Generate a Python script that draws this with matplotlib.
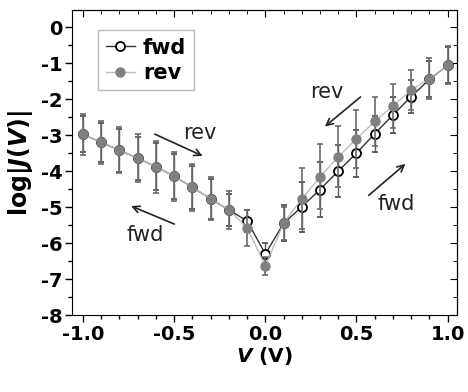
import matplotlib
matplotlib.use("Agg")
import matplotlib.pyplot as plt
from matplotlib.lines import Line2D
from matplotlib.ticker import MultipleLocator

plt.rcParams['font.family'] = ['DejaVu Sans']
plt.rcParams['mathtext.fontset'] = 'custom'
plt.rcParams['mathtext.it'] = 'DejaVu Sans:italic:bold'
plt.rcParams['mathtext.rm'] = 'DejaVu Sans:bold'
plt.rcParams['mathtext.bf'] = 'DejaVu Sans:bold'

# bias voltage (V)
volts = [-1.0, -0.9, -0.8, -0.7, -0.6, -0.5, -0.4, -0.3, -0.2, -0.1, 0.0,
         0.1, 0.2, 0.3, 0.4, 0.5, 0.6, 0.7, 0.8, 0.9, 1.0]
# log|J| forward sweep
fwd = [-2.98, -3.20, -3.42, -3.64, -3.88, -4.14, -4.45, -4.77, -5.08, -5.38, -6.30,
       -5.45, -4.99, -4.51, -4.00, -3.50, -2.96, -2.44, -1.93, -1.45, -1.06]
fwd_err = [0.50, 0.55, 0.60, 0.60, 0.65, 0.62, 0.60, 0.55, 0.45, 0.30, 0.30,
           0.50, 0.70, 0.75, 0.72, 0.65, 0.50, 0.50, 0.45, 0.50, 0.50]
# log|J| reverse sweep
rev = [-2.98, -3.20, -3.42, -3.64, -3.88, -4.14, -4.45, -4.77, -5.08, -5.57, -6.63,
       -5.45, -4.77, -4.16, -3.60, -3.10, -2.62, -2.19, -1.75, -1.43, -1.06]
rev_err = [0.56, 0.60, 0.64, 0.66, 0.72, 0.68, 0.65, 0.60, 0.52, 0.50, 0.25,
           0.45, 0.85, 0.90, 0.85, 0.80, 0.67, 0.60, 0.55, 0.57, 0.53]

fig = plt.figure(figsize=(4.68, 3.92), dpi=100)
ax = fig.add_axes([0.154, 0.196, 0.822, 0.778])

ax.errorbar(volts, fwd, yerr=fwd_err, color='#333333', lw=1.0, marker='o', ms=6.5,
            mfc='white', mec='black', mew=1.3, ecolor='#555555', elinewidth=1.0,
            capsize=2.5, capthick=1.0, zorder=2)
ax.errorbar(volts, rev, yerr=rev_err, color='#bdbdbd', lw=1.0, marker='o', ms=6.5,
            mfc='#808080', mec='#808080', ecolor='#6a6a6a', elinewidth=1.2,
            capsize=2.5, capthick=1.2, zorder=3)

ax.set_xlim(-1.06, 1.05)
ax.set_ylim(-8, 0.47)
ax.xaxis.set_minor_locator(MultipleLocator(0.1))
ax.yaxis.set_minor_locator(MultipleLocator(0.5))
ax.set_xticks([-1.0, -0.5, 0.0, 0.5, 1.0])
ax.set_xticklabels(['-1.0', '-0.5', '0.0', '0.5', '1.0'])
ax.set_yticks(range(-8, 1))
ax.set_yticklabels([str(v) for v in range(-8, 1)])
ax.tick_params(which='both', direction='out', top=False, right=False, labelsize=14, width=1)
ax.tick_params(which='major', length=5, pad=2)
ax.tick_params(which='minor', length=3)
for lab in ax.get_xticklabels() + ax.get_yticklabels():
    lab.set_fontweight('bold')
sec_x = ax.secondary_xaxis('top')
sec_x.xaxis.set_major_locator(MultipleLocator(0.5))
sec_x.xaxis.set_minor_locator(MultipleLocator(0.1))
sec_x.tick_params(which='both', direction='in', labeltop=False)
sec_y = ax.secondary_yaxis('right')
sec_y.yaxis.set_major_locator(MultipleLocator(1))
sec_y.yaxis.set_minor_locator(MultipleLocator(0.5))
sec_y.tick_params(which='both', direction='in', labelright=False)
for a in [sec_x, sec_y]:
    a.tick_params(which='major', length=5)
    a.tick_params(which='minor', length=3)

ax.set_xlabel(r'$V$ (V)', fontsize=14.5, fontweight='bold', labelpad=1)
ax.set_ylabel(r'log|$J$($V$)|', fontsize=17, fontweight='bold', labelpad=4)

# sweep direction arrows
arrow = dict(arrowstyle='->', color='#222222', lw=1.2, mutation_scale=12)
ax.annotate('', xy=(-0.33, -3.61), xytext=(-0.62, -2.94), arrowprops=arrow)
ax.annotate('', xy=(-0.75, -4.94), xytext=(-0.485, -5.5), arrowprops=arrow)
ax.annotate('', xy=(0.315, -2.81), xytext=(0.534, -1.89), arrowprops=arrow)
ax.annotate('', xy=(0.78, -3.75), xytext=(0.556, -4.72), arrowprops=arrow)
ax.text(-0.36, -2.94, 'rev', fontsize=15, ha='center', va='center', color='#222222')
ax.text(-0.66, -5.78, 'fwd', fontsize=15, ha='center', va='center', color='#222222')
ax.text(0.337, -1.81, 'rev', fontsize=15, ha='center', va='center', color='#222222')
ax.text(0.72, -4.92, 'fwd', fontsize=15, ha='center', va='center', color='#222222')

handles = [
    Line2D([], [], color='#333333', lw=1.0, marker='o', ms=6.5, mfc='white', mec='black', mew=1.3),
    Line2D([], [], color='#bdbdbd', lw=1.0, marker='o', ms=6.5, mfc='#808080', mec='#808080'),
]
leg = ax.legend(handles, ['fwd', 'rev'], loc='upper left', bbox_to_anchor=(0.068, 0.934),
                borderaxespad=0, prop={'weight': 'bold', 'size': 15}, fancybox=False,
                handlelength=1.4, handletextpad=0.4, borderpad=0.35, labelspacing=0.25,
                framealpha=1)
leg.get_frame().set_edgecolor('#bbbbbb')

fig.savefig('out.png', dpi=100)
